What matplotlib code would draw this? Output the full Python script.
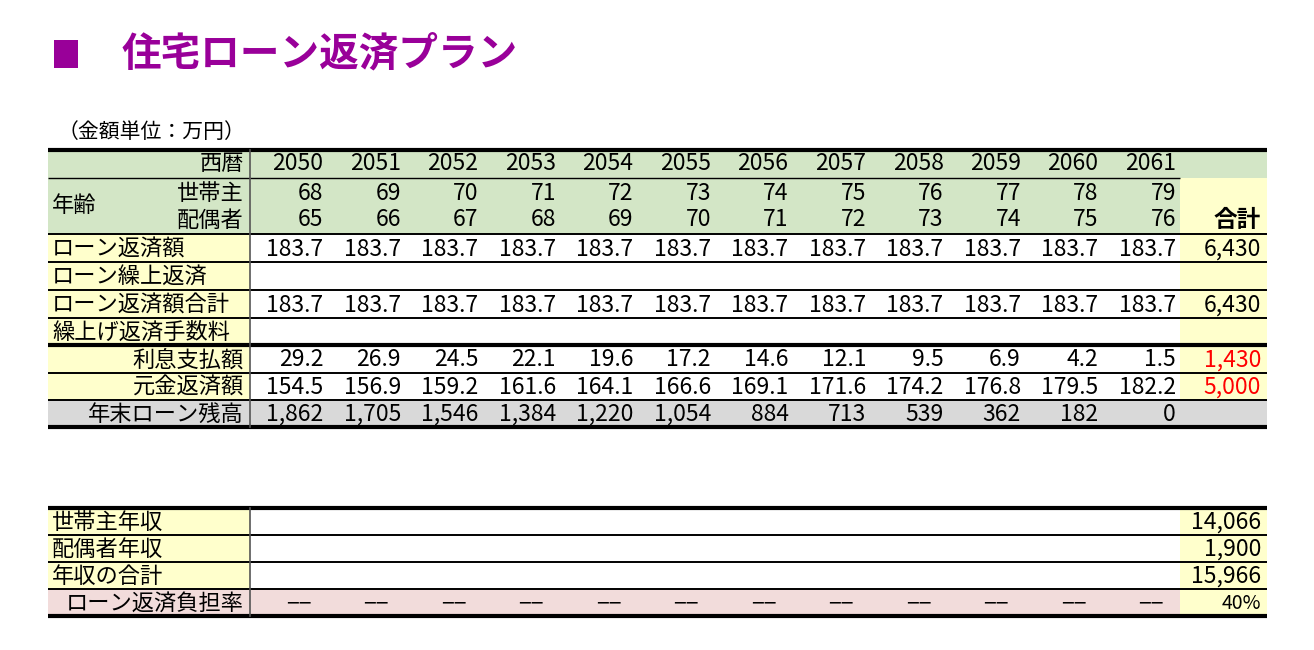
import matplotlib
matplotlib.use("Agg")
import matplotlib.pyplot as plt
from matplotlib.patches import Rectangle

plt.rcParams['font.family'] = ['Noto Sans CJK JP', 'DejaVu Sans']

years = [2050, 2051, 2052, 2053, 2054, 2055, 2056, 2057, 2058, 2059, 2060, 2061]
age_head = [68, 69, 70, 71, 72, 73, 74, 75, 76, 77, 78, 79]
age_spouse = [65, 66, 67, 68, 69, 70, 71, 72, 73, 74, 75, 76]
repay = [183.7] * 12
repay_total = [183.7] * 12
interest = [29.2, 26.9, 24.5, 22.1, 19.6, 17.2, 14.6, 12.1, 9.5, 6.9, 4.2, 1.5]
principal = [154.5, 156.9, 159.2, 161.6, 164.1, 166.6, 169.1, 171.6, 174.2, 176.8, 179.5, 182.2]
balance = ["1,862", "1,705", "1,546", "1,384", "1,220", "1,054", "884", "713", "539", "362", "182", "0"]
totals = {"repay": "6,430", "repay_total": "6,430", "interest": "1,430", "principal": "5,000"}
income_labels = ["世帯主年収", "配偶者年収", "年収の合計", "ローン返済負担率"]
income_totals = ["14,066", "1,900", "15,966", "40%"]

GREEN = "#D3E6C6"; YELLOW = "#FFFFCC"; GRAY = "#D9D9D9"; PINK = "#F2DCDB"

fig = plt.figure(figsize=(13.14, 6.5), dpi=100)
ax = fig.add_axes([0, 0, 1, 1])
ax.set_xlim(0, 1314); ax.set_ylim(650, 0); ax.axis("off")

L, C0, CW, TR = 48, 250, 77.5, 1267
TL = C0 + CW * 12
FS = 16.5   # numbers
LS = 16     # labels

def rect(x0, y0, x1, y1, c):
    ax.add_patch(Rectangle((x0, y0), x1 - x0, y1 - y0, facecolor=c, edgecolor="none", zorder=0))

def hline(y, lw=1.4, x0=L, x1=TR):
    ax.plot([x0, x1], [y, y], color="black", lw=lw, zorder=3, solid_capstyle="butt")

def txt(x, y, s, ha="right", color="black", size=FS, weight="normal", sx=1.0):
    t = ax.text(x, y, s, ha=ha, va="center", color=color, fontsize=size, fontweight=weight, zorder=4)
    return t

# title
ax.add_patch(Rectangle((54, 40), 24, 28, facecolor="#990099", edgecolor="none"))
txt(122, 54, "住宅ローン返済プラン", ha="left", color="#990099", size=28.5, weight="bold")
txt(58, 132, "（金額単位：万円）", ha="left", size=15)

rows_y = [150, 178, 234, 262, 290, 318, 345, 373, 400, 427]
rect(L, 150, TR, 234, GREEN)
rect(TL, 178, TR, 400, YELLOW)
rect(L, 234, C0, 400, YELLOW)
rect(L, 400, TR, 427, GRAY)

def cx(i):
    return C0 + CW * (i + 1) - 4

txt(C0 - 6, 164, "西暦", size=LS)
txt(C0 - 6, 193, "世帯主", size=LS); txt(C0 - 6, 220, "配偶者", size=LS)
txt(52, 206, "年齢", ha="left", size=LS)
for i in range(12):
    txt(cx(i), 164, str(years[i]))
    txt(cx(i), 193, str(age_head[i]))
    txt(cx(i), 220, str(age_spouse[i]))
txt(TR - 6, 220, "合計", weight="bold", size=LS + 1)

body = [
    ("ローン返済額", "left", [f"{v:.1f}" for v in repay], totals["repay"], "black"),
    ("ローン繰上返済", "left", None, "", "black"),
    ("ローン返済額合計", "left", [f"{v:.1f}" for v in repay_total], totals["repay_total"], "black"),
    ("繰上げ返済手数料", "left", None, "", "black"),
    ("利息支払額", "right", [f"{v:.1f}" for v in interest], totals["interest"], "red"),
    ("元金返済額", "right", [f"{v:.1f}" for v in principal], totals["principal"], "red"),
    ("年末ローン残高", "right", balance, "", "black"),
]
for r, (lab, ha, vals, tot, tc) in enumerate(body):
    yc = (rows_y[r + 2] + rows_y[r + 3]) / 2 + 1
    txt(52 if ha == "left" else C0 - 6, yc, lab, ha=ha, size=LS)
    if vals:
        for i, v in enumerate(vals):
            txt(cx(i), yc, v)
    if tot:
        txt(TR - 6, yc, tot, color=tc)

hline(150, 3)
hline(178, 1.0, L, C0); hline(178, 1.0, C0, TL)
for y in [234, 262, 290, 318, 373, 400]:
    hline(y, 1.4)
hline(345, 3); hline(427, 3)
ax.plot([C0, C0], [150, 427], color="#555555", lw=1.2, zorder=3)

# bottom table
by = [508, 535, 562, 589, 616]
rect(L, 508, C0, 589, YELLOW)
rect(L, 589, TL, 616, PINK)
rect(TL, 508, TR, 616, YELLOW)
for r in range(4):
    yc = (by[r] + by[r + 1]) / 2 + 1
    if r < 3:
        txt(52, yc, income_labels[r], ha="left", size=LS)
    else:
        txt(C0 - 6, yc, income_labels[r], ha="right", size=LS)
        for i in range(12):
            txt(cx(i) - 12, yc, "−−", size=FS)
    txt(TR - 6, yc, income_totals[r], size=14 if r == 3 else FS)
hline(508, 3); hline(616, 3)
for y in by[1:4]:
    hline(y, 1.4)
ax.plot([C0, C0], [508, 616], color="#555555", lw=1.2, zorder=3)

fig.savefig("out.png", dpi=100)
